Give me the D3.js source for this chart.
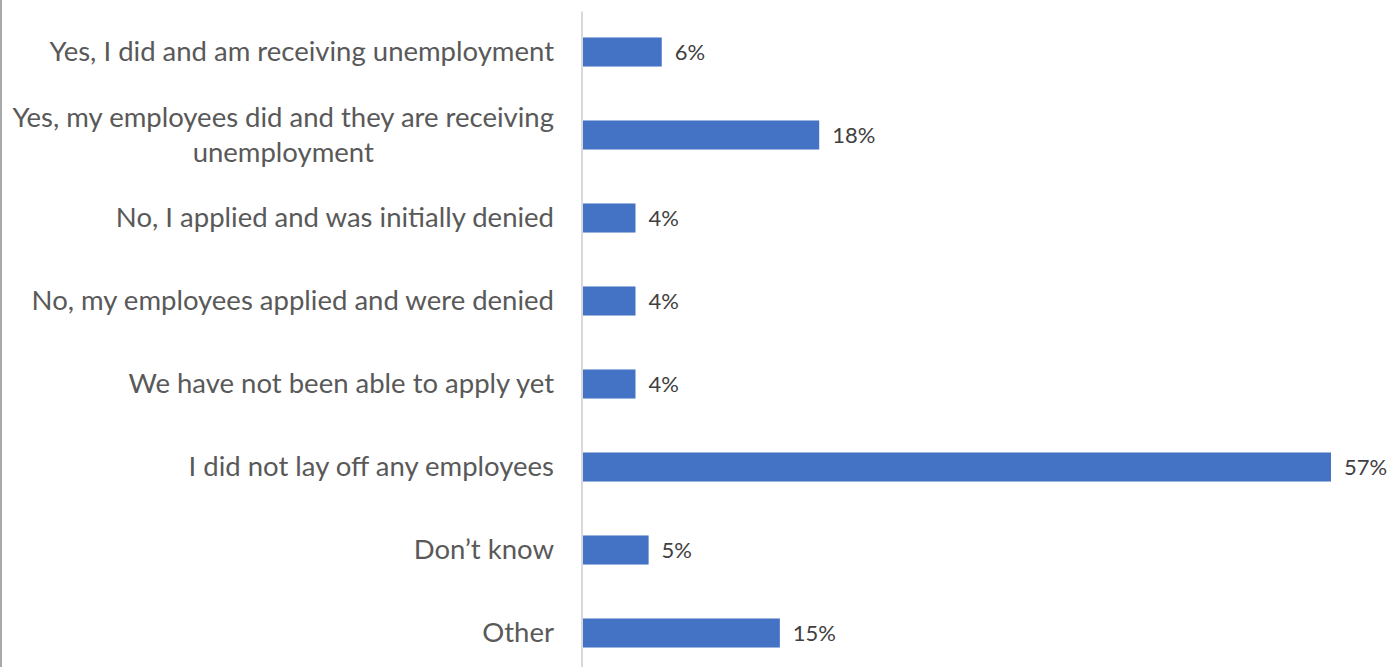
<!DOCTYPE html>
<html>
<head>
<meta charset="utf-8">
<script src="https://cdn.jsdelivr.net/npm/d3@7"></script>
<style>
  html, body { margin: 0; padding: 0; background: #ffffff; }
  svg { display: block; }
</style>
</head>
<body>
<svg id="chart" width="1391" height="667"></svg>
<script>
// Survey answers (top to bottom) and share of respondents, in percent
const categories = [
  "Yes, I did and am receiving unemployment",
  "Yes, my employees did and they are receiving unemployment",
  "No, I applied and was initially denied",
  "No, my employees applied and were denied",
  "We have not been able to apply yet",
  "I did not lay off any employees",
  "Don\u2019t know",
  "Other"
];
const values = [6, 18, 4, 4, 4, 57, 5, 15];
const valueLabels = ["6%", "18%", "4%", "4%", "4%", "57%", "5%", "15%"];

// Category labels that break onto two lines
const labelLines = {
  "Yes, my employees did and they are receiving unemployment":
    ["Yes, my employees did and they are receiving", "unemployment"]
};

const W = 1391, H = 667;
const plot = { left: 583, right: 1331, top: 10.5, bottom: 674.5 };
const font = "Lato, 'Open Sans', sans-serif";

const svg = d3.select("#chart");

const x = d3.scaleLinear().domain([0, 57]).range([plot.left, plot.right]);
const y = d3.scaleBand().domain(categories).range([plot.top, plot.bottom]).paddingInner(0.65).paddingOuter(0.325);

// Chart frame edge on the left
svg.append("line")
  .attr("x1", 1).attr("x2", 1).attr("y1", 0).attr("y2", H)
  .attr("stroke", "#8c8c8c").attr("stroke-width", 1.5);

// Bars
svg.append("g").selectAll("rect")
  .data(categories)
  .join("rect")
  .attr("x", x(0))
  .attr("y", d => y(d))
  .attr("width", (d, i) => x(values[i]) - x(0))
  .attr("height", y.bandwidth())
  .attr("fill", "#4472c4");

// Category axis
const yAxis = svg.append("g")
  .attr("transform", `translate(${plot.left - 1},0)`)
  .call(d3.axisLeft(y).tickSize(0).tickPadding(28));
yAxis.select(".domain")
  .attr("d", `M0,${plot.top + 1}V${H}`)
  .attr("stroke", "#d9d9d9").attr("stroke-width", 2);
yAxis.selectAll(".tick text")
  .attr("font-family", font)
  .attr("font-size", 27.5)
  .attr("fill", "#595959")
  .each(function(d) {
    const lines = labelLines[d];
    if (!lines) return;
    const t = d3.select(this).text(null).attr("text-anchor", "middle");
    lines.forEach((ln, k) => {
      t.append("tspan").attr("x", 0).attr("dy", k === 0 ? "-0.3em" : "1.27em").text(ln);
    });
  });

// Center the wrapped label on its own widest line, right-aligned with the others
yAxis.selectAll(".tick text").filter(d => labelLines[d]).each(function() {
  const bb = this.getBBox();
  d3.select(this).selectAll("tspan").attr("x", -28 - bb.width / 2);
});

// Value labels
svg.append("g").selectAll("text")
  .data(categories)
  .join("text")
  .attr("x", (d, i) => x(values[i]) + 13)
  .attr("y", d => y(d) + y.bandwidth() / 2)
  .attr("dy", "0.35em")
  .attr("font-family", font)
  .attr("font-size", 22)
  .attr("fill", "#404040")
  .text((d, i) => valueLabels[i]);
</script>
</body>
</html>
